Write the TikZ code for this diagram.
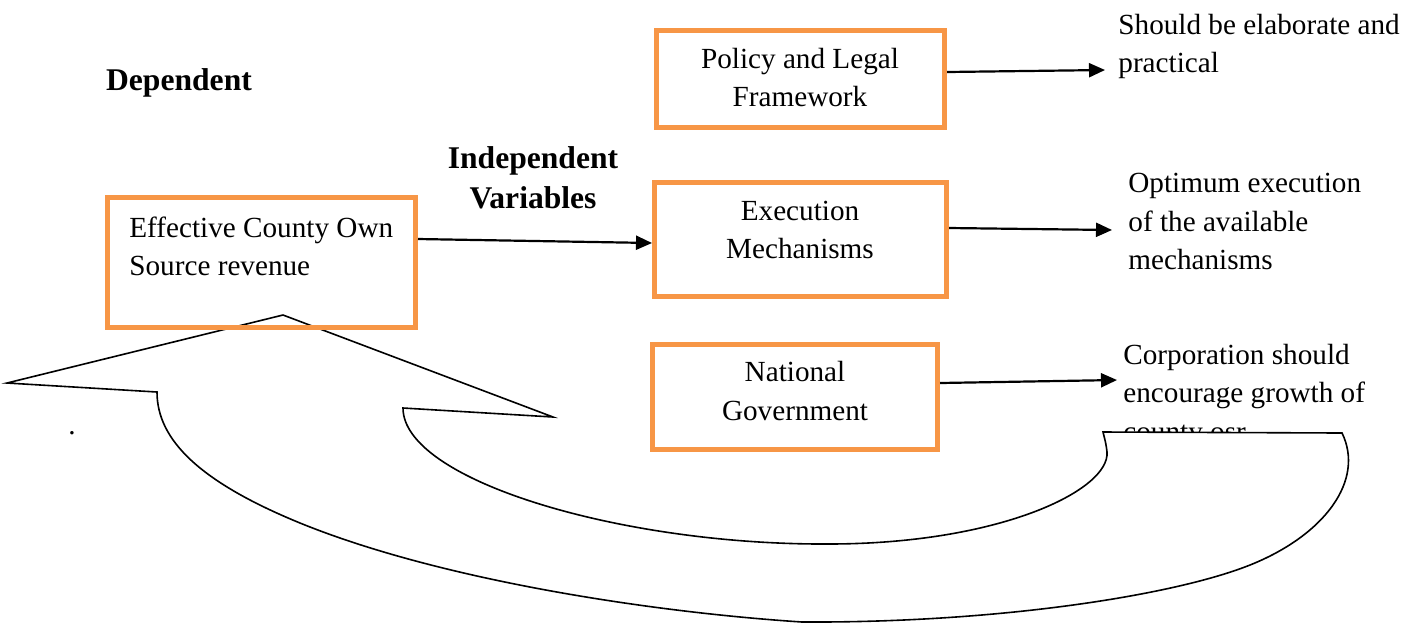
\documentclass[tikz,border=0pt]{standalone}
\usepackage{fontspec}
\setmainfont{Liberation Serif}
\usetikzlibrary{arrows.meta,positioning}
\definecolor{boxorange}{RGB}{247,150,70}

\begin{document}
\begin{tikzpicture}[x=0.5pt,y=-0.5pt,
    box/.style={draw=boxorange,line width=2.5pt,rectangle,inner sep=0pt},
    txt/.style={inner sep=0pt,font=\fontsize{14.6}{19.3}\selectfont},
    head/.style={inner sep=0pt,font=\fontsize{15.8}{20}\selectfont\bfseries},
    arr/.style={line width=1.1pt,-{Triangle[length=8pt,width=7pt]}},
    loopback/.style={draw=black,line width=0.8pt,fill=white,line join=miter}]
  \useasboundingbox (0,0) rectangle (1418,623);

  % outcomes on the right
  \node[txt,anchor=west,align=left] (res1) at (1118,46.5) {Should be elaborate and\\practical};
  \node[txt,anchor=west,align=left] (res2) at (1128,221.5) {Optimum execution\\of the available\\mechanisms};
  \node[txt,anchor=west,align=left] (res3) at (1123,396) {Corporation should\\encourage growth of\\county osr};

  % the big feedback arrow
  \draw[loopback] (283,315) -- (553,417) -- (403,408)
    .. controls (403,480) and (620,545) .. (828,544)
    .. controls (1000,544) and (1110,490) .. (1107,452)
    .. controls (1106,444) .. (1103,432)
    -- (1342,433)
    .. controls (1365,480) and (1325,535) .. (1250,565)
    .. controls (1175,595) and (1000,623) .. (802,622)
    .. controls (650,612) and (440,580) .. (300,523)
    .. controls (200,482) and (157,440) .. (157,392)
    -- (7,383) -- cycle;

  \node[head] (dep) at (179,83) {Dependent};
  \node[head,align=center] (indep) at (533,178) {Independent\\Variables};
  \node[txt] (dot) at (72,433) {.};

  \node[box,minimum width=154pt,minimum height=65pt] (src) at (261.5,262.5) {};
  \node[txt,anchor=west,align=left] (srctxt) at (129,246.5) {Effective County Own\\Source revenue};

  \node[box,minimum width=144pt,minimum height=48.5pt] (plf) at (800.5,79) {};
  \node[txt,align=center] (plftxt) at (800,77.5) {Policy and Legal\\Framework};

  \node[box,minimum width=146pt,minimum height=57pt] (exm) at (800.5,239.5) {};
  \node[txt,align=center] (exmtxt) at (800,230) {Execution\\Mechanisms};

  \node[box,minimum width=142.5pt,minimum height=52.5pt] (natg) at (795,397) {};
  \node[txt,align=center] (natgtxt) at (795,391) {National\\Government};

  \coordinate (end1) at (1105,70);
  \coordinate (end2) at (1112,230);
  \coordinate (end3) at (1117,380);

  \draw[arr] ([yshift=11.75pt]src.east) -- ([yshift=-1.75pt]exm.west);
  \draw[arr] ([yshift=3.5pt]plf.east) -- (end1);
  \draw[arr] ([yshift=5.75pt]exm.east) -- (end2);
  \draw[arr] ([yshift=7pt]natg.east) -- (end3);
\end{tikzpicture}
\end{document}
